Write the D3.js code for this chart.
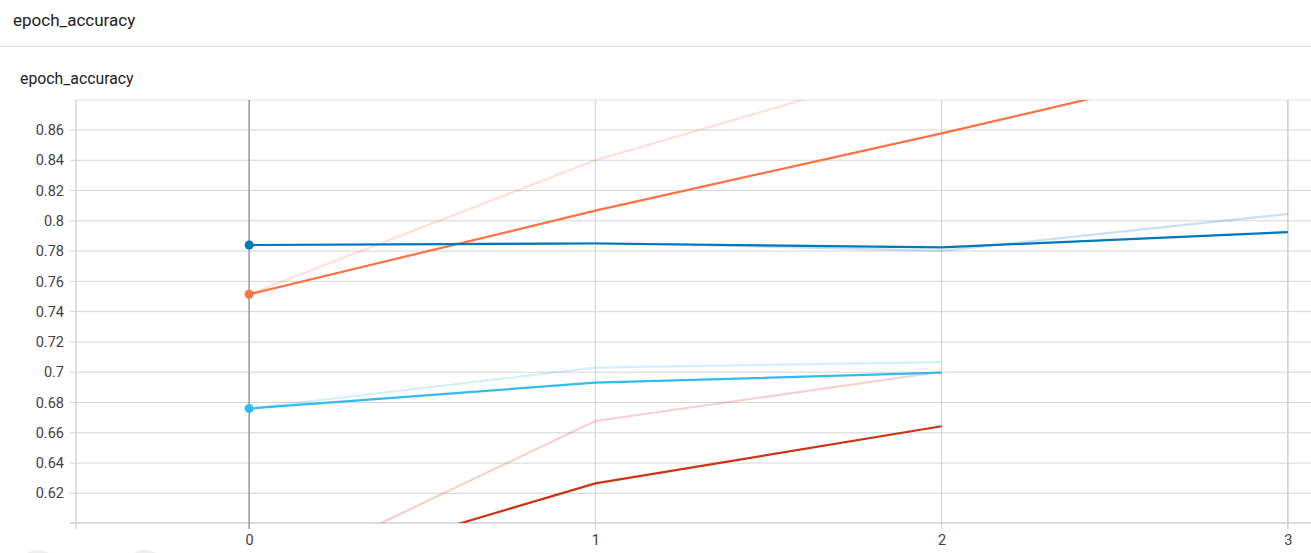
<!DOCTYPE html>
<html>
<head>
<meta charset="utf-8">
<script src="https://cdn.jsdelivr.net/npm/d3@7"></script>
<style>
  html, body { margin: 0; padding: 0; background: #fff; }
  svg { display: block; font-family: Roboto, "Liberation Sans", Arial, sans-serif; }
</style>
</head>
<body>
<svg id="chart" width="1311" height="553"></svg>
<script>
// ---- data ----
const steps = [0, 1, 2, 3];
const seriesNames = ["run_a", "run_b", "run_c", "run_d"];
const seriesColors = ["#ff7043", "#0077bb", "#cc3311", "#33bbee"];
// smoothed values (solid lines)
const orangeSmoothed = [0.7515, 0.8067, 0.8578, 0.911];
const blueSmoothed   = [0.784, 0.785, 0.7825, 0.7925];
const redSmoothed    = [0.5588, 0.6266, 0.6643];
const cyanSmoothed   = [0.676, 0.6931, 0.6997];
// raw values (faint lines)
const orangeRaw = [0.7515, 0.84, 0.9067, 0.9736];
const blueRaw   = [0.784, 0.7855, 0.7802, 0.8045];
const redRaw    = [0.5588, 0.6678, 0.7003];
const cyanRaw   = [0.676, 0.703, 0.7067];
const yTickValues = [0.62, 0.64, 0.66, 0.68, 0.7, 0.72, 0.74, 0.76, 0.78, 0.8, 0.82, 0.84, 0.86];
const xTickValues = [0, 1, 2, 3];
const titleText = "epoch_accuracy";

const smoothedSets = [orangeSmoothed, blueSmoothed, redSmoothed, cyanSmoothed];
const rawSets = [orangeRaw, blueRaw, redRaw, cyanRaw];

// ---- layout ----
const svg = d3.select("#chart");
const W = 1311, H = 553;
const pLeft = 76, pTop = 100, pBottom = 523, pRightFull = 1461;
const tickFont = "Roboto, 'Liberation Sans', Arial, sans-serif";

// header
svg.append("text").attr("x", 13).attr("y", 26)
  .attr("font-size", 17).attr("fill", "#212121").text(titleText);
svg.append("line").attr("x1", 0).attr("x2", W).attr("y1", 46.5).attr("y2", 46.5)
  .attr("stroke", "#e0e0e0").attr("stroke-width", 1);
svg.append("text").attr("x", 20).attr("y", 84)
  .attr("font-size", 15.8).attr("fill", "#212121").text(titleText);

const x = d3.scaleLinear().domain([-0.5, 3.5]).range([pLeft, pRightFull]);
const y = d3.scaleLinear().domain([0.6004, 0.8798]).range([pBottom, pTop]);

// grid
const grid = svg.append("g");
grid.selectAll("line.h").data(yTickValues).join("line").attr("class", "h")
  .attr("x1", pLeft - 6).attr("x2", W)
  .attr("y1", d => y(d)).attr("y2", d => y(d))
  .attr("stroke", "#d5d5d5").attr("stroke-width", 1);
grid.append("line").attr("x1", pLeft).attr("x2", W).attr("y1", pTop).attr("y2", pTop)
  .attr("stroke", "#e0e0e0");
grid.selectAll("line.v").data(xTickValues.filter(d => d !== 0)).join("line").attr("class", "v")
  .attr("x1", d => x(d)).attr("x2", d => x(d))
  .attr("y1", pTop).attr("y2", pBottom + 6)
  .attr("stroke", "#d0d0d0").attr("stroke-width", d => d === 3 ? 1.6 : 1);
grid.append("line").attr("x1", pLeft).attr("x2", pLeft).attr("y1", pTop).attr("y2", pBottom + 6)
  .attr("stroke", "#cccccc").attr("stroke-width", 1.2);
grid.append("line").attr("x1", pLeft - 6).attr("x2", W).attr("y1", pBottom).attr("y2", pBottom)
  .attr("stroke", "#d0d0d0").attr("stroke-width", 1.6);
grid.append("line").attr("x1", x(0)).attr("x2", x(0)).attr("y1", pTop).attr("y2", pBottom + 6)
  .attr("stroke", "#999999").attr("stroke-width", 1.5);

// y axis labels
const yAxis = d3.axisLeft(y).tickValues(yTickValues).tickFormat(d3.format("~g")).tickSize(0).tickPadding(12);
const ya = svg.append("g").attr("transform", `translate(${pLeft},0)`).call(yAxis);
ya.select(".domain").remove();
ya.selectAll("text").attr("font-size", 14.5).attr("fill", "#424242").style("font-family", tickFont);

// x axis labels
const xAxis = d3.axisBottom(x).tickValues(xTickValues).tickFormat(d3.format("d")).tickSize(0).tickPadding(12);
const xa = svg.append("g").attr("transform", `translate(0,${pBottom})`).call(xAxis);
xa.select(".domain").remove();
xa.selectAll("text").attr("font-size", 14.5).attr("fill", "#424242").style("font-family", tickFont);

// clip
svg.append("clipPath").attr("id", "plotclip").append("rect")
  .attr("x", pLeft).attr("y", pTop).attr("width", W - pLeft).attr("height", pBottom - pTop);
const plot = svg.append("g").attr("clip-path", "url(#plotclip)");

const line = d3.line().x((d, i) => x(steps[i])).y(d => y(d));

rawSets.forEach((vals, k) => {
  plot.append("path").datum(vals).attr("d", line)
    .attr("fill", "none").attr("stroke", seriesColors[k])
    .attr("stroke-opacity", 0.22).attr("stroke-width", 2.2);
});
smoothedSets.forEach((vals, k) => {
  plot.append("path").datum(vals).attr("d", line)
    .attr("fill", "none").attr("stroke", seriesColors[k])
    .attr("stroke-width", 2.2);
});
smoothedSets.forEach((vals, k) => {
  plot.append("circle").attr("cx", x(steps[0])).attr("cy", y(vals[0]))
    .attr("r", 4.5).attr("fill", seriesColors[k]);
});

// bottom button circles (partially visible)
svg.append("circle").attr("cx", 38).attr("cy", 571).attr("r", 21).attr("fill", "#eeeeee");
svg.append("circle").attr("cx", 145).attr("cy", 571).attr("r", 21).attr("fill", "#eeeeee");
</script>
</body>
</html>
